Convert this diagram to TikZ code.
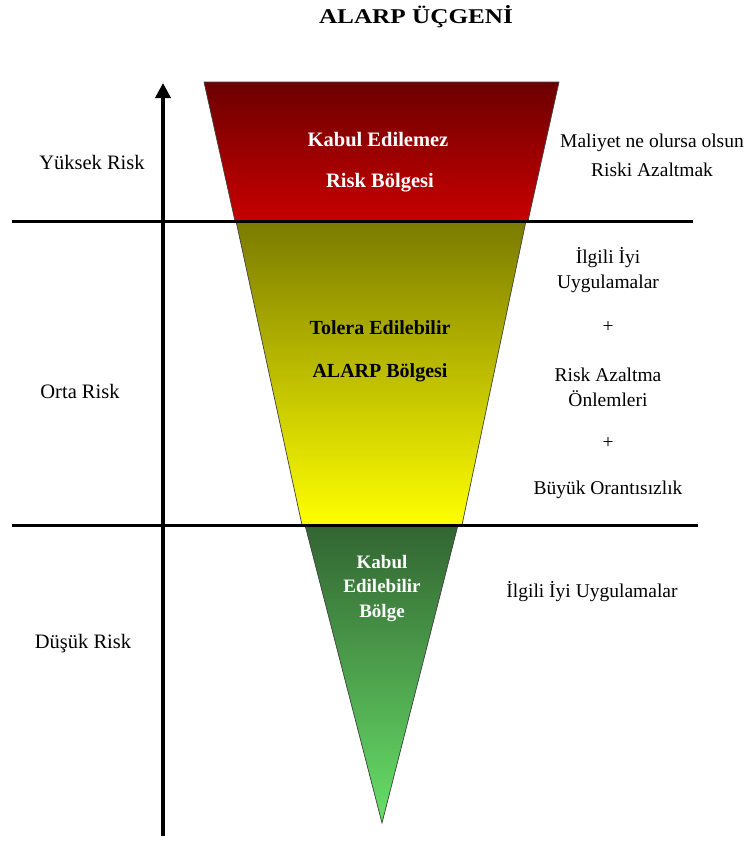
\documentclass[tikz,border=0pt]{standalone}
\usepackage{fontspec}
\setmainfont{Liberation Serif}
\newfontfamily\titlefont[FakeStretch=1.2]{Liberation Serif}
\usetikzlibrary{arrows.meta}

\definecolor{redtop}{RGB}{108,0,0}
\definecolor{redbot}{RGB}{200,0,0}
\definecolor{olivetop}{RGB}{122,122,0}
\definecolor{olivemid}{RGB}{200,200,0}
\definecolor{yellowbot}{RGB}{255,255,0}
\definecolor{greentop}{RGB}{50,100,50}
\definecolor{greenbot}{RGB}{104,224,104}

\tikzset{
  zone/.style={draw=black!75, line width=0.7pt},
  divider/.style={line width=3pt, draw=black},
  sidelabel/.style={font=\fontsize{20.5}{24}\selectfont, inner sep=0pt},
  note/.style={font=\fontsize{19.5}{25}\selectfont, inner sep=0pt, align=center},
  zonetext/.style={font=\bfseries\fontsize{20.5}{24}\selectfont, text=white, inner sep=0pt, align=center},
  zonetextdark/.style={font=\bfseries\fontsize{20}{24}\selectfont, text=black, inner sep=0pt, align=center},
}

\begin{document}
\begin{tikzpicture}[x=1pt, y=-1pt]
\useasboundingbox (0,0) rectangle (749,841);

% title
\node[font=\titlefont\bfseries\fontsize{21}{25}\selectfont, inner sep=0pt] (title) at (416,17) {ALARP ÜÇGENİ};

% the three zones of the inverted triangle
\shade[zone, top color=redtop, bottom color=redbot]
  (204,82) -- (559,82) -- (528,221) -- (235,221) -- cycle;
\shade[zone, top color=olivetop, middle color=olivemid, bottom color=yellowbot]
  (236,221) -- (526,221) -- (462,525) -- (302,525) -- cycle;
\shade[zone, top color=greentop, bottom color=greenbot]
  (305,525) -- (458,525) -- (382,823) -- cycle;

% boundaries between risk levels
\coordinate (hiL) at (12,221);
\coordinate (hiR) at (693,221);
\coordinate (loL) at (12,525);
\coordinate (loR) at (698,525);
\draw[divider] (hiL) -- (hiR);
\draw[divider] (loL) -- (loR);

% risk axis
\coordinate (axisbottom) at (163,836);
\coordinate (axistop) at (163,83);
\draw[line width=3.5pt, -{Triangle[length=15pt, width=15pt]}] (axisbottom) -- (axistop);

% risk levels
\node[sidelabel] (high) at (92,162) {Yüksek Risk};
\node[sidelabel] (mid) at (80,391) {Orta Risk};
\node[sidelabel] (low) at (83,644) {Düşük Risk};

% zone names
\node[zonetext] (unacc1) at (378,140) {Kabul Edilemez};
\node[zonetext] (unacc2) at (380,183) {Risk Bölgesi};
\node[zonetextdark] (tol1) at (380,328) {Tolera Edilebilir};
\node[zonetextdark] (tol2) at (380,373) {ALARP Bölgesi};
\node[zonetext, font=\bfseries\fontsize{19}{24.5}\selectfont] (acc) at (382,588) {Kabul\\Edilebilir\\Bölge};

% actions per zone
\node[note] (act1a) at (652,143) {Maliyet ne olursa olsun};
\node[note] (act1b) at (652,170) {Riski Azaltmak};
\node[note] (act2a) at (608,270) {İlgili İyi\\Uygulamalar};
\node[note] (plus1) at (608,327) {+};
\node[note] (act2b) at (608,387) {Risk Azaltma\\Önlemleri};
\node[note] (plus2) at (608,443) {+};
\node[note] (act2c) at (608,490) {Büyük Orantısızlık};
\node[note] (act3) at (592,592) {İlgili İyi Uygulamalar};
\end{tikzpicture}
\end{document}
